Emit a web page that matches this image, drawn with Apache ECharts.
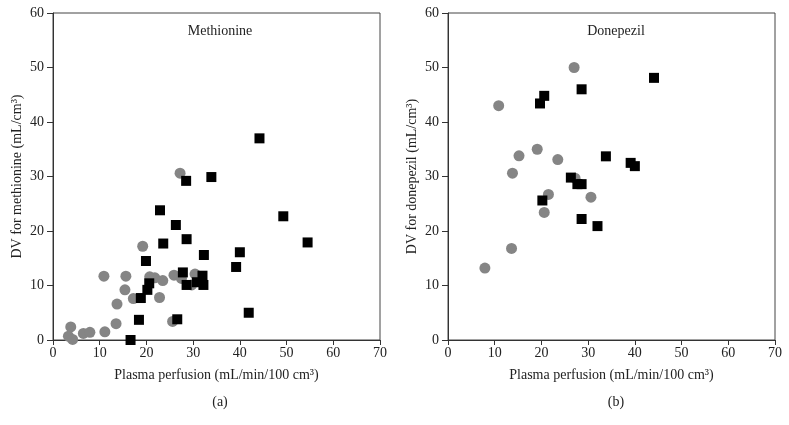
<!DOCTYPE html>
<html>
<head>
<meta charset="utf-8">
<script src="https://cdn.jsdelivr.net/npm/echarts@6/dist/echarts.min.js"></script>
<style>
html,body{margin:0;padding:0;background:#fff;}
#chart{width:789px;height:425px;}
</style>
</head>
<body>
<div id="chart"></div>
<script>
// ---- data ----
var xTicks = [0, 10, 20, 30, 40, 50, 60, 70];
var yTicks = [0, 10, 20, 30, 40, 50, 60];
var panelTitles = ['Methionine', 'Donepezil'];
var panelLetters = ['(a)', '(b)'];
var xAxisTitle = 'Plasma perfusion (mL/min/100 cm³)';
var yAxisTitles = ['DV for methionine (mL/cm³)', 'DV for donepezil (mL/cm³)'];

var methionineCircles = [
  [3.3, 0.7], [3.8, 2.4], [4.2, 0.1], [6.5, 1.2], [7.9, 1.4], [11.1, 1.5],
  [13.5, 3.0], [13.7, 6.6], [15.4, 9.2], [10.9, 11.7], [15.6, 11.7], [17.2, 7.6],
  [19.2, 17.2], [20.7, 11.6], [21.8, 11.4], [22.8, 7.8], [23.5, 10.9], [25.6, 3.4],
  [25.9, 11.9], [27.2, 30.6], [27.5, 11.3], [29.7, 10.1], [30.4, 12.1]
];
var methionineSquares = [
  [16.6, 0.0], [18.4, 3.7], [18.8, 7.7], [20.2, 9.2], [20.6, 10.4], [19.9, 14.5],
  [22.9, 23.8], [23.6, 17.7], [26.3, 21.1], [26.6, 3.8], [27.8, 12.4], [28.5, 29.2],
  [28.6, 18.5], [28.6, 10.1], [30.8, 10.6], [32.0, 11.8], [32.2, 10.1], [32.3, 15.6],
  [33.9, 29.9], [44.2, 37.0], [39.2, 13.4], [40.0, 16.1], [41.9, 5.0], [49.3, 22.7],
  [54.5, 17.9]
];
var donepezilCircles = [
  [27.0, 50.0], [10.85, 43.0], [15.2, 33.8], [19.1, 35.0], [23.5, 33.1], [13.8, 30.6],
  [27.2, 29.7], [21.5, 26.7], [20.6, 23.4], [30.6, 26.2], [13.6, 16.8], [7.9, 13.2]
];
var donepezilSquares = [
  [20.6, 44.8], [19.7, 43.4], [28.6, 46.0], [44.1, 48.1], [33.8, 33.7], [39.1, 32.5],
  [40.0, 31.9], [26.3, 29.8], [27.7, 28.6], [28.6, 28.6], [20.2, 25.6], [28.6, 22.2],
  [32.0, 20.9]
];

// ---- chart ----
var FONT = 'Liberation Serif';
var FS = 14;
var chart = echarts.init(document.getElementById('chart'));
var grids = [
  {left: 53, top: 13, width: 327, height: 327},
  {left: 448, top: 13, width: 327, height: 327}
];
function makeX(i) {
  return {
    type: 'value', gridIndex: i, min: xTicks[0], max: xTicks[xTicks.length - 1], interval: 10,
    splitLine: {show: false},
    axisLine: {show: true, onZero: false, lineStyle: {color: '#333', width: 1}},
    axisTick: {show: true, length: 5, lineStyle: {color: '#333'}},
    axisLabel: {color: '#222', fontFamily: FONT, fontSize: FS, margin: 6},
    name: xAxisTitle, nameLocation: 'middle', nameGap: 28,
    nameTextStyle: {color: '#222', fontFamily: FONT, fontSize: FS}
  };
}
function makeY(i) {
  return {
    type: 'value', gridIndex: i, min: yTicks[0], max: yTicks[yTicks.length - 1], interval: 10,
    splitLine: {show: false},
    axisLine: {show: true, onZero: false, lineStyle: {color: '#333', width: 1}},
    axisTick: {show: true, length: 6, lineStyle: {color: '#333'}},
    axisLabel: {color: '#222', fontFamily: FONT, fontSize: FS, margin: 9},
    name: yAxisTitles[i], nameLocation: 'middle', nameGap: 29, nameRotate: 90,
    nameTextStyle: {color: '#222', fontFamily: FONT, fontSize: FS}
  };
}
function grid(g) {
  return Object.assign({show: true, borderColor: '#444', borderWidth: 1, backgroundColor: 'transparent'}, g);
}
function textStyle() {
  return {fontFamily: FONT, fontSize: FS, fontWeight: 'normal', color: '#222'};
}
chart.setOption({
  animation: false,
  backgroundColor: '#fff',
  grid: [grid(grids[0]), grid(grids[1])],
  xAxis: [makeX(0), makeX(1)],
  yAxis: [makeY(0), makeY(1)],
  title: [
    {text: panelTitles[0], left: 215, top: 19, textAlign: 'center', textStyle: textStyle()},
    {text: panelTitles[1], left: 611, top: 19, textAlign: 'center', textStyle: textStyle()},
    {text: panelLetters[0], left: 215, top: 390, textAlign: 'center', textStyle: textStyle()},
    {text: panelLetters[1], left: 611, top: 390, textAlign: 'center', textStyle: textStyle()}
  ],
  series: [
    {type: 'scatter', xAxisIndex: 0, yAxisIndex: 0, data: methionineCircles,
     symbol: 'circle', symbolSize: 11, itemStyle: {color: '#858585', opacity: 1}},
    {type: 'scatter', xAxisIndex: 0, yAxisIndex: 0, data: methionineSquares,
     symbol: 'rect', symbolSize: 10, itemStyle: {color: '#000', opacity: 1}},
    {type: 'scatter', xAxisIndex: 1, yAxisIndex: 1, data: donepezilCircles,
     symbol: 'circle', symbolSize: 11, itemStyle: {color: '#858585', opacity: 1}},
    {type: 'scatter', xAxisIndex: 1, yAxisIndex: 1, data: donepezilSquares,
     symbol: 'rect', symbolSize: 10, itemStyle: {color: '#000', opacity: 1}}
  ]
});
</script>
</body>
</html>
